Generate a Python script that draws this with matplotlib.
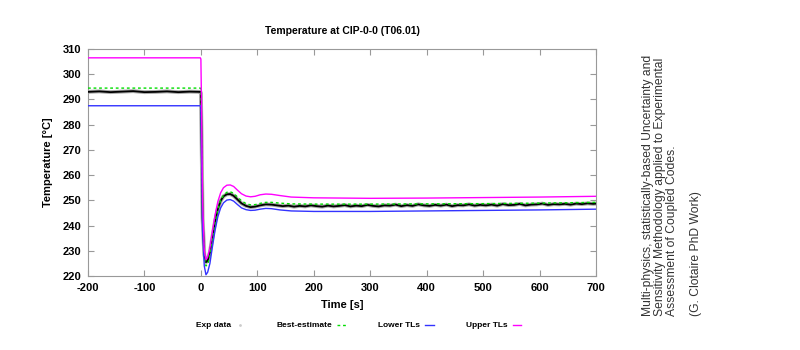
import numpy as np
import matplotlib.pyplot as plt
from matplotlib.lines import Line2D

plt.rcParams['font.family'] = ['Liberation Sans', 'DejaVu Sans']
plt.rcParams['axes.unicode_minus'] = False

# --- Best-estimate (green dashed)
t_best = [-200, -1, 0, 1, 3, 6, 9, 12, 16, 20, 25, 30, 35, 40, 46, 52, 58, 65, 72, 80, 88,
          96, 105, 115, 125, 140, 160, 200, 300, 400, 500, 600, 700]
T_best = [294.5, 294.5, 294.0, 280.0, 245.0, 228.0, 224.0, 224.5, 228.0, 234.0, 241.0, 246.5,
          250.0, 252.0, 253.2, 253.4, 252.8, 251.3, 249.8, 248.7, 248.2, 248.3, 248.8, 249.2,
          249.2, 248.9, 248.6, 248.5, 248.5, 248.6, 248.7, 248.9, 249.2]

# --- Lower TLs (blue)
t_low = [-200, -1, 0, 1, 3, 6, 9, 12, 16, 20, 25, 30, 35, 40, 46, 52, 58, 65, 72, 80, 88,
         96, 105, 115, 125, 140, 160, 200, 300, 400, 500, 600, 700]
T_low = [287.5, 287.5, 287.0, 272.0, 238.0, 224.0, 220.5, 221.5, 225.0, 231.0, 238.0, 243.5,
         247.0, 249.0, 250.1, 250.3, 249.7, 248.3, 247.0, 246.3, 246.0, 246.1, 246.5, 246.8,
         246.7, 246.2, 245.8, 245.6, 245.6, 245.8, 246.0, 246.2, 246.5]

# --- Upper TLs (magenta)
t_up = [-200, -1, 0, 1, 3, 6, 9, 12, 16, 20, 25, 30, 35, 40, 46, 52, 58, 65, 72, 80, 88,
        96, 105, 115, 125, 140, 160, 200, 300, 400, 500, 600, 700]
T_up = [306.5, 306.5, 306.0, 290.0, 250.0, 230.0, 226.5, 227.5, 231.0, 237.0, 244.0, 249.5,
        253.0, 255.0, 256.0, 256.1, 255.5, 254.0, 252.6, 251.7, 251.4, 251.6, 252.2, 252.5,
        252.4, 251.9, 251.3, 251.0, 250.8, 250.9, 251.1, 251.3, 251.6]

# --- Exp data (black)
t_exp = [-200, -180, -160, -140, -120, -100, -80, -60, -40, -20, -1, 0, 1, 3, 6, 9, 12, 16,
         20, 25, 30, 35, 40, 46, 52, 58, 65, 72, 80, 88, 96, 105, 115, 125, 135, 145, 155,
         165, 175, 185, 195, 205, 215, 225, 235, 245, 255, 265, 275, 285, 295, 305, 315, 325,
         335, 345, 355, 365, 375, 385, 395, 405, 415, 425, 435, 445, 455, 465, 475, 485, 495,
         505, 515, 525, 535, 545, 555, 565, 575, 585, 595, 605, 615, 625, 635, 645, 655, 665,
         675, 685, 695, 700]
T_exp = [293.0, 293.2, 292.9, 293.1, 293.3, 292.9, 293.0, 293.2, 292.9, 293.1, 293.0, 292.5,
         278.0, 243.0, 228.5, 225.5, 226.0, 229.5, 235.0, 241.5, 246.5, 249.8, 251.6, 252.4,
         252.5, 251.8, 250.3, 248.8, 247.8, 247.3, 247.5, 248.0, 248.4, 248.3, 248.0, 247.7,
         247.9, 247.5, 247.8, 247.6, 248.0, 247.7, 247.5, 247.9, 247.6, 247.8, 248.1, 247.6,
         247.9, 247.7, 248.2, 247.8, 247.6, 248.0, 247.9, 248.3, 247.7, 248.1, 247.8, 248.4,
         248.0, 247.8, 248.2, 247.9, 248.3, 247.7, 248.1, 248.0, 248.4, 247.9, 248.2, 248.0,
         248.3, 247.9, 248.5, 248.1, 248.2, 248.6, 248.0, 248.3, 248.4, 248.7, 248.2, 248.5,
         248.4, 248.6, 248.3, 248.7, 248.5, 248.8, 248.6, 248.7]

xticks = [-200, -100, 0, 100, 200, 300, 400, 500, 600, 700]
yticks = [220, 230, 240, 250, 260, 270, 280, 290, 300, 310]

side_note = ("Multi-physics, statistically-based Uncertainty and\n"
             "Sensitivity Methodology applied to Experimental\n"
             "Assessment of Coupled Codes.\n\n"
             "(G. Clotaire PhD Work)")

fig = plt.figure(figsize=(8, 3.5), dpi=100)
ax = fig.add_axes([0.11, 0.2114, 0.635, 0.6486])

ax.plot(t_exp, T_exp, color='#aaaaaa', lw=2.8, zorder=2)
ax.plot(t_exp, T_exp, color='black', lw=1.3, zorder=3)
ax.plot(t_best, T_best, color='#00dd00', lw=1.0, ls=(0, (2, 2)), zorder=4)
ax.plot(t_low, T_low, color='#3333ff', lw=1.0, zorder=4)
ax.plot(t_up, T_up, color='#ff00ff', lw=1.0, zorder=4)

ax.set_xlim(-200, 700)
ax.set_ylim(220, 310)
ax.set_xticks(xticks)
ax.set_yticks(yticks)
ax.tick_params(direction='in', top=True, right=True, length=4, width=0.8,
               color='#999999', labelsize=8, pad=5)
for lab in ax.get_xticklabels() + ax.get_yticklabels():
    lab.set_fontweight('bold')
for s in ax.spines.values():
    s.set_linewidth(0.8)
    s.set_color('#999999')

ax.set_xlabel('Time [s]', fontsize=8, fontweight='bold', labelpad=5)
ax.set_ylabel('Temperature [°C]', fontsize=8, fontweight='bold', labelpad=7)
ax.set_title('Temperature at CIP-0-0 (T06.01)', fontsize=7.5, fontweight='bold', pad=11)

handles = [
    Line2D([], [], color='#cccccc', lw=0, marker='.', markersize=2),
    Line2D([], [], color='#00dd00', lw=1.0, ls=(0, (2, 2))),
    Line2D([], [], color='#3333ff', lw=1.0),
    Line2D([], [], color='#ff00ff', lw=1.0),
]
labels = ['Exp data', 'Best-estimate', 'Lower TLs', 'Upper TLs']
fig.legend(handles, labels, loc='center', bbox_to_anchor=(0.448, 0.07), ncol=4,
           frameon=False, markerfirst=False, handlelength=1.0, handletextpad=0.6,
           columnspacing=3.9, prop={'size': 6, 'weight': 'bold'})

fig.text(0.84, 0.47, side_note, rotation=90, ha='center', va='center', color='#333333',
         fontsize=8.7, linespacing=1.0, multialignment='left')

fig.savefig('out.png', dpi=100)
